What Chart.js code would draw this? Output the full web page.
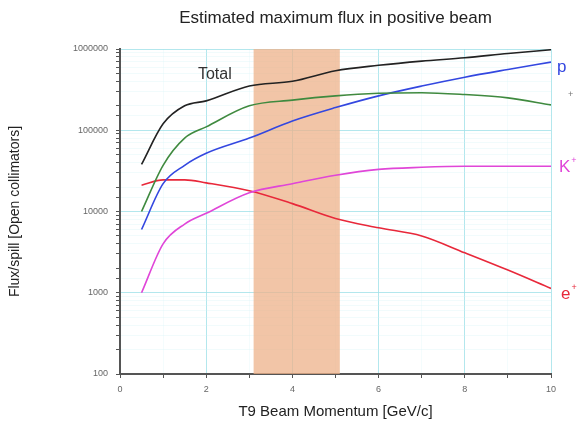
<!DOCTYPE html>
<html>
<head>
<meta charset="utf-8">
<script src="https://cdn.jsdelivr.net/npm/chart.js@4"></script>
<style>
  html, body { margin: 0; padding: 0; background: #fff; }
  #wrap { width: 585px; height: 429px; }
</style>
</head>
<body>
<div id="wrap"><canvas id="fluxChart"></canvas></div>
<script>
// momentum points (GeV/c) and flux per spill for each particle type
const momentum = [0.5, 1, 1.5, 2, 3, 4, 5, 6, 7, 8, 9, 10];
const totalFlux = [38000, 120000, 200000, 230000, 350000, 400000, 540000, 630000, 710000, 780000, 880000, 980000];
const pionFlux = [10000, 37000, 80000, 110000, 200000, 235000, 265000, 285000, 290000, 275000, 250000, 205000];
const protonFlux = [6000, 22000, 37000, 52000, 80000, 130000, 190000, 265000, 350000, 450000, 560000, 690000];
const kaonFlux = [1000, 4000, 7000, 9500, 17000, 22000, 28000, 33000, 35000, 36000, 36000, 36000];
const electronFlux = [21000, 24500, 24500, 22500, 18000, 12500, 8200, 6300, 5000, 3100, 1900, 1130];
const bandRange = [3.1, 5.1];
const xTicks = [0, 2, 4, 6, 8, 10];
const yTicks = [100, 1000, 10000, 100000, 1000000];

function toPoints(values) {
  return momentum.map((m, i) => ({ x: m, y: values[i] }));
}

const series = [
  { label: "Total", values: totalFlux, color: "#222222" },
  { label: "π+", values: pionFlux, color: "#3f8a3f" },
  { label: "p", values: protonFlux, color: "#3347e0" },
  { label: "K+", values: kaonFlux, color: "#e046d8" },
  { label: "e+", values: electronFlux, color: "#e8283a" },
];

// end-of-line labels: text, superscript, colour, offsets in px
const endLabels = [
  { ds: 2, text: "p", sup: "", color: "#3347e0", dx: 6, dy: 5 },
  { ds: 1, text: "", sup: "+", color: "#777777", dx: 16, dy: -3 },
  { ds: 3, text: "K", sup: "+", color: "#e046d8", dx: 8, dy: 1 },
  { ds: 4, text: "e", sup: "+", color: "#e8283a", dx: 10, dy: 6 },
];

const bandPlugin = {
  id: "band",
  beforeDatasetsDraw(chart) {
    const { ctx, chartArea, scales } = chart;
    const x0 = scales.x.getPixelForValue(bandRange[0]);
    const x1 = scales.x.getPixelForValue(bandRange[1]);
    ctx.save();
    ctx.fillStyle = "rgba(238, 178, 138, 0.75)";
    ctx.fillRect(x0, chartArea.top, x1 - x0, chartArea.bottom - chartArea.top);
    ctx.restore();
  },
};

const textPlugin = {
  id: "texts",
  afterDraw(chart) {
    const { ctx, chartArea, scales } = chart;
    ctx.save();
    // title
    ctx.fillStyle = "#222";
    ctx.font = "17px 'Liberation Sans', Arial, sans-serif";
    ctx.textAlign = "center";
    ctx.textBaseline = "middle";
    ctx.fillText("Estimated maximum flux in positive beam", (chartArea.left + chartArea.right) / 2, 18);

    // "Total" label inside the plot
    ctx.font = "16px 'Liberation Sans', Arial, sans-serif";
    ctx.fillStyle = "#333";
    ctx.fillText("Total", scales.x.getPixelForValue(2.2), scales.y.getPixelForValue(490000));

    // labels at line ends
    ctx.textAlign = "left";
    endLabels.forEach(l => {
      const meta = chart.getDatasetMeta(l.ds);
      const last = meta.data[meta.data.length - 1];
      const x = last.x + l.dx;
      const y = last.y + l.dy;
      ctx.fillStyle = l.color;
      ctx.font = "17px 'Liberation Sans', Arial, sans-serif";
      ctx.textBaseline = "middle";
      ctx.fillText(l.text, x, y);
      const w = ctx.measureText(l.text).width;
      if (l.sup) {
        ctx.font = "9px 'Liberation Sans', Arial, sans-serif";
        ctx.fillText(l.sup, x + w + 1, y - 7);
      }
    });
    ctx.restore();
  },
};

function isDecade(v) {
  const l = Math.log10(v);
  return Math.abs(l - Math.round(l)) < 1e-6;
}

const chartCanvas = document.getElementById("fluxChart");
const fluxChart = new Chart(chartCanvas, {
  type: "line",
  data: {
    datasets: series.map(s => ({
      label: s.label,
      data: toPoints(s.values),
      borderColor: s.color,
      borderWidth: 1.6,
      pointRadius: 0,
      cubicInterpolationMode: "monotone",
      fill: false,
    })),
  },
  options: {
    responsive: true,
    maintainAspectRatio: false,
    animation: false,
    layout: { padding: { top: 49, right: 34, left: 0, bottom: 0 } },
    plugins: {
      legend: { display: false },
      title: { display: false },
      tooltip: { enabled: false },
    },
    scales: {
      x: {
        type: "linear",
        min: 0,
        max: 10,
        afterFit(scale) { scale.height = 55; },
        afterBuildTicks(scale) {
          scale.ticks = [0, 1, 2, 3, 4, 5, 6, 7, 8, 9, 10].map(v => ({ value: v }));
        },
        border: { color: "#555", width: 2 },
        grid: {
          color: ctx => (xTicks.includes(ctx.tick.value) ? "rgba(160,225,232,0.8)" : "rgba(210,242,246,0.25)"),
          tickColor: "#555",
          tickLength: 4,
        },
        ticks: {
          color: "#666",
          font: { size: 9, family: "'Liberation Sans', Arial, sans-serif" },
          padding: 6,
          maxRotation: 0,
          autoSkip: false,
          callback: v => (xTicks.includes(v) ? String(v) : ""),
        },
        title: {
          display: true,
          text: "T9 Beam Momentum [GeV/c]",
          color: "#222",
          font: { size: 15, family: "'Liberation Sans', Arial, sans-serif" },
          padding: { top: 4, bottom: 8 },
        },
      },
      y: {
        type: "logarithmic",
        min: 100,
        max: 1000000,
        afterFit(scale) { scale.width = 120; },
        border: { color: "#555", width: 2 },
        grid: {
          color: ctx => (isDecade(ctx.tick.value) ? "rgba(160,225,232,0.8)" : "rgba(210,242,246,0.3)"),
          tickColor: "#555",
          tickLength: 4,
        },
        ticks: {
          color: "#666",
          font: { size: 9, family: "'Liberation Sans', Arial, sans-serif" },
          padding: 8,
          autoSkip: false,
          callback: v => (yTicks.includes(v) ? String(v) : ""),
        },
        title: {
          display: true,
          text: "Flux/spill [Open collimators]",
          color: "#222",
          font: { size: 14, family: "'Liberation Sans', Arial, sans-serif" },
          padding: { top: 7, bottom: 4 },
        },
      },
    },
  },
  plugins: [bandPlugin, textPlugin],
});
</script>
</body>
</html>
